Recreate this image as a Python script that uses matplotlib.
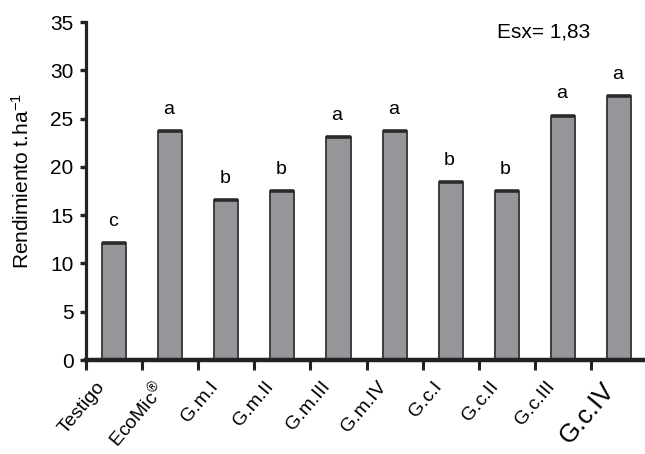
import numpy as np
import matplotlib
matplotlib.use("Agg")
import matplotlib.pyplot as plt
from matplotlib import rcParams
from matplotlib.transforms import ScaledTranslation

rcParams['font.family'] = ['Liberation Sans', 'DejaVu Sans']
rcParams['mathtext.default'] = 'regular'

# Rendimiento por tratamiento (t/ha) y letras de significacion
tratamientos = ['Testigo', 'EcoMic$^{®}$', 'G.m.I', 'G.m.II', 'G.m.III', 'G.m.IV',
                'G.c.I', 'G.c.II', 'G.c.III', 'G.c.IV']
rendimiento = [12.1, 23.7, 16.6, 17.5, 23.1, 23.7, 18.4, 17.5, 25.3, 27.3]
letras = ['c', 'a', 'b', 'b', 'a', 'a', 'b', 'b', 'a', 'a']
esx = '1,83'

fig = plt.figure(figsize=(6.45, 4.54), dpi=100)
ax = fig.add_axes([0.1333, 0.207, 0.87, 0.7445])

x = np.arange(len(tratamientos))
w = 0.43
ax.bar(x, rendimiento, width=w, color='#95959a', edgecolor='#333333',
       linewidth=1.3, zorder=2)
# borde superior mas grueso
ax.hlines(rendimiento, x - w / 2, x + w / 2, colors='#2a2a2a', linewidth=2.6, zorder=3)

for xi, v, l in zip(x, rendimiento, letras):
    ax.annotate(l, (xi, v), xytext=(-1, 9.5), textcoords='offset points',
                ha='center', va='bottom', fontsize=14)

ax.text(0.733, 0.97, 'Esx= ' + esx, transform=ax.transAxes, fontsize=15,
        ha='left', va='center')

ax.set_xlim(-0.5, 9.5)
ax.set_ylim(0, 35)
ax.set_yticks(np.arange(0, 36, 5))
ax.tick_params(axis='y', labelsize=15, length=4, width=2.4, pad=5, color='#222222')

# marcas del eje x entre barras, etiquetas giradas escritas aparte
ax.set_xticks(x - 0.5)
ax.set_xticklabels([])
ax.tick_params(axis='x', length=7, width=2.2, color='#222222', direction='out')
off = ScaledTranslation(10 / 100, -18 / 100, fig.dpi_scale_trans)
for i, t in enumerate(tratamientos):
    fs = 18.5 if i == len(tratamientos) - 1 else 14
    ax.text(i - 0.5, 0, t, transform=ax.get_xaxis_transform() + off,
            rotation=50, rotation_mode='anchor', ha='right', va='top',
            fontsize=fs)

for s in ['top', 'right']:
    ax.spines[s].set_visible(False)
ax.spines['left'].set_linewidth(2.3)
ax.spines['left'].set_color('#222222')
ax.spines['bottom'].set_linewidth(3.2)
ax.spines['bottom'].set_color('#222222')

ax.set_ylabel('Rendimiento t.ha$^{-1}$', fontsize=15)
ax.yaxis.set_label_coords(-0.094, 0.53)

fig.savefig('out.png', dpi=100)
